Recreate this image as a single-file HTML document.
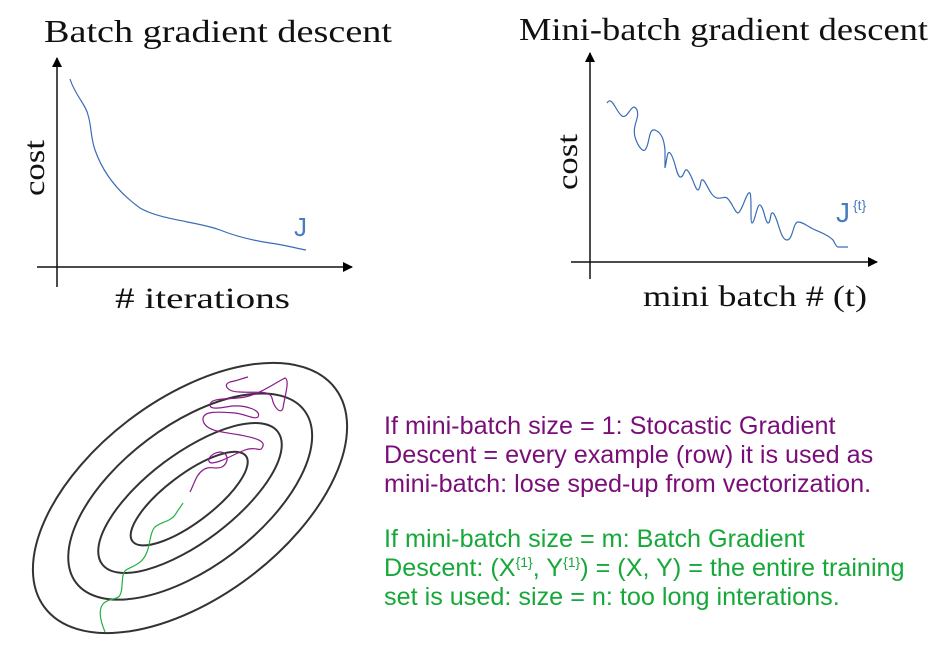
<!DOCTYPE html>
<html><head><meta charset="utf-8"><style>
html,body{margin:0;padding:0;background:#fff;overflow:hidden;}
body{width:948px;height:646px;overflow:hidden;position:relative;}
svg{display:block;}
.t{position:absolute;font-family:"Liberation Sans",sans-serif;font-size:25.2px;white-space:nowrap;line-height:29px;}
sup{font-size:14px;line-height:0;vertical-align:9px;}
</style></head><body>
<svg width="948" height="646" style="position:absolute;left:0;top:0">
<defs><marker id="ar" markerWidth="10" markerHeight="10" refX="9" refY="5" orient="auto" markerUnits="userSpaceOnUse"><path d="M0,0 L10,5 L0,10 z" fill="#000"/></marker></defs>
<g font-family="Liberation Serif, serif" fill="#111">
<text x="44" y="42" font-size="32" textLength="348" lengthAdjust="spacingAndGlyphs">Batch gradient descent</text>
<text x="115" y="308" font-size="30" textLength="175" lengthAdjust="spacingAndGlyphs"># iterations</text>
<text transform="translate(44,196) rotate(-90)" font-size="30" textLength="56" lengthAdjust="spacingAndGlyphs">cost</text>
<text x="519" y="40" font-size="32" textLength="409" lengthAdjust="spacingAndGlyphs">Mini-batch gradient descent</text>
<text x="643" y="306" font-size="30" textLength="224" lengthAdjust="spacingAndGlyphs">mini batch # (t)</text>
<text transform="translate(577,190) rotate(-90)" font-size="30" textLength="56" lengthAdjust="spacingAndGlyphs">cost</text>
</g>
<g stroke="#111" stroke-width="1.5" fill="none">
<line x1="57" y1="287" x2="57" y2="58" marker-end="url(#ar)"/>
<line x1="37" y1="267" x2="352" y2="267" marker-end="url(#ar)"/>
<line x1="590" y1="279" x2="590" y2="53" marker-end="url(#ar)"/>
<line x1="571" y1="262" x2="877" y2="262" marker-end="url(#ar)"/>
</g>
<path d="M70,79 C75,95 86,105 88,115 C92,128 90,135 95,150 C102,170 115,190 140,208 C160,220 200,222 220,230 C235,236 250,240 270,243 C285,245 295,248 306,250" fill="none" stroke="#3a6db5" stroke-width="1.2"/>
<text x="294" y="236" font-family="Liberation Sans,sans-serif" font-size="26" fill="#4a7cc0">J</text>
<path d="M607,103 C612,95 616,112 622,116 C628,120 632,100 637,110 C640,118 632,125 635,137 C638,147 643,152 645,150 C650,145 648,128 655,130 C662,133 664,140 665,150 L665,168 C667,160 667,150 670,153 C675,158 676,175 680,177 C684,178 684,168 687,170 C692,174 695,190 698,190 C701,189 700,178 703,180 C707,183 710,196 717,198 C722,199 724,196 727,198 C732,202 735,213 738,213 C742,212 747,190 750,193 C752,196 750,223 752,223 C755,222 757,204 760,205 C764,207 765,222 768,223 C771,223 770,211 773,213 C778,217 780,240 787,240 C793,240 793,222 798,222 C803,222 807,226 813,229 C820,232 828,235 833,240 C835,243 836,247 838,247 L848,247" fill="none" stroke="#3a6db5" stroke-width="1.2"/>
<text x="836" y="222" font-family="Liberation Sans,sans-serif" font-size="28" fill="#4a7cc0">J</text>
<text x="853" y="210" font-family="Liberation Sans,sans-serif" font-size="14" fill="#4a7cc0">{t}</text>
<g fill="none" stroke="#333" stroke-width="2" transform="translate(190,498) rotate(-37)">
<ellipse cx="0" cy="0" rx="182" ry="99"/>
<ellipse cx="1" cy="-1" rx="143" ry="71"/>
<ellipse cx="0" cy="0" rx="110" ry="44"/>
<ellipse cx="-1" cy="0" rx="71" ry="24"/>
</g>
<path d="M105,632 C100,620 98,610 103,604 C108,598 118,600 120,595 C124,588 120,575 126,570 C132,566 142,565 147,552 C150,545 150,532 155,527 C160,522 170,522 175,515 C178,510 182,505 183,503" fill="none" stroke="#22b040" stroke-width="1.2"/>
<path d="M190,492 C195,482 196,475 203,470 C210,465 215,470 222,467 C230,462 228,452 220,452 C210,453 205,462 212,463 C222,462 232,455 245,450 C255,446 260,452 262,448 C268,440 250,437 240,435 C225,432 205,432 203,420 C202,410 220,412 235,413 C245,414 255,420 258,417 C262,410 245,405 232,406 C220,408 210,410 210,405 C210,397 230,400 245,397 C260,394 275,383 285,378 C290,380 285,395 283,408 C281,415 274,408 272,398 C270,390 258,393 240,392 C228,392 222,385 230,382 C240,380 243,378 248,377" fill="none" stroke="#8a1a8a" stroke-width="1.2"/>
</svg>
<div class="t" style="left:384px;top:412px;color:#7a0e78">If mini-batch size = 1: Stocastic Gradient<br>Descent = every example (row) it is used as<br>mini-batch: lose sped-up from vectorization.</div>
<div class="t" style="left:384px;top:525px;color:#17a83a">If mini-batch size = m: Batch Gradient<br>Descent: (X<sup>{1}</sup>, Y<sup>{1}</sup>) = (X, Y) = the entire training<br>set is used: size = n: too long interations.</div>
</body></html>
